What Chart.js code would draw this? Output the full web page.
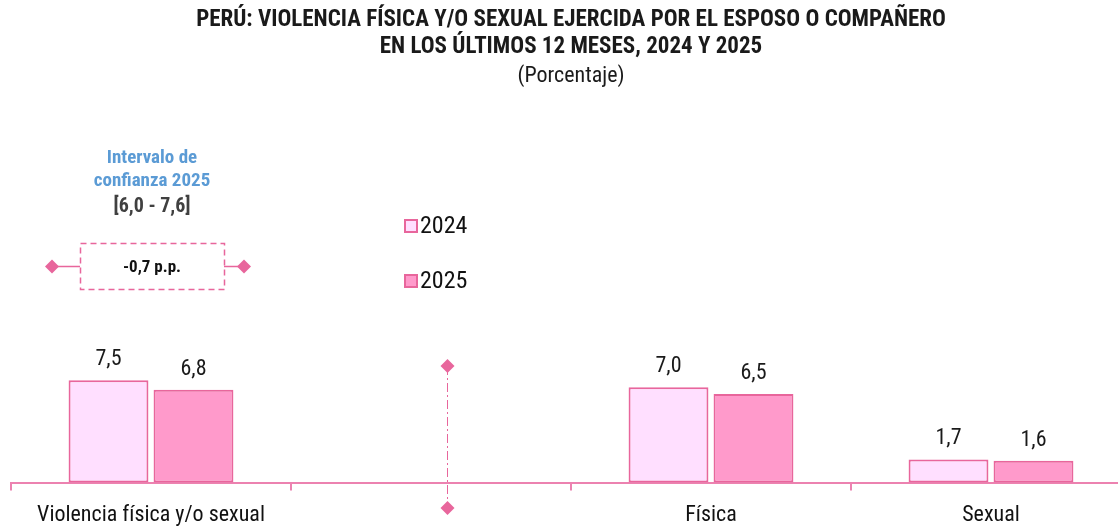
<!DOCTYPE html>
<html>
<head>
<meta charset="utf-8">
<script src="https://cdn.jsdelivr.net/npm/chart.js@4"></script>
<style>
  html, body { margin: 0; padding: 0; background: #ffffff; overflow: hidden; }
  #wrap { width: 1131px; height: 527px; }
</style>
</head>
<body>
<div id="wrap"><canvas id="chart" width="1131" height="527"></canvas></div>
<script>
// data
const categories = ['Violencia física y/o sexual', '', 'Física', 'Sexual'];
const years = ['2024', '2025'];
const values2024 = [7.5, null, 7.0, 1.7];
const values2025 = [6.8, null, 6.5, 1.6];

const titleLines = ['PERÚ: VIOLENCIA FÍSICA Y/O SEXUAL EJERCIDA POR EL ESPOSO O COMPAÑERO', 'EN LOS ÚLTIMOS 12 MESES, 2024 Y 2025'];
const subtitleText = '(Porcentaje)';
const intervalLines = ['Intervalo de', 'confianza 2025'];
const intervalRange = '[6,0 - 7,6]';
const diffText = '-0,7 p.p.';

const FONT = "'Liberation Sans Narrow', 'Arial Narrow', 'Roboto Condensed', sans-serif";
const PINK_LINE = '#e8669c';
const AXIS_PINK = '#ec82b0';
const FILL_2024 = '#ffdfff';
const FILL_2025 = '#ff9acb';

function fmt(v) {
  return v.toFixed(1).replace('.', ',');
}

function diamond(ctx, x, y, r) {
  ctx.beginPath();
  ctx.moveTo(x, y - r);
  ctx.lineTo(x + r, y);
  ctx.lineTo(x, y + r);
  ctx.lineTo(x - r, y);
  ctx.closePath();
  ctx.fill();
}

// value labels, legend, separator and confidence note
const extras = {
  id: 'extras',
  afterDatasetsDraw(chart) {
    const ctx = chart.ctx;
    const xs = chart.scales.x;
    ctx.save();

    // value labels over bars
    ctx.font = '22px ' + FONT;
    ctx.fillStyle = '#1a1a1a';
    ctx.textAlign = 'center';
    ctx.textBaseline = 'alphabetic';
    chart.data.datasets.forEach((ds, i) => {
      chart.getDatasetMeta(i).data.forEach((bar, j) => {
        if (ds.data[j] == null) return;
        ctx.fillText(fmt(ds.data[j]), bar.x, bar.y - 15);
      });
    });

    // legend
    ctx.textAlign = 'left';
    ctx.textBaseline = 'middle';
    chart.data.datasets.forEach((ds, i) => {
      const y = 226 + i * 55;
      ctx.fillStyle = ds.backgroundColor;
      ctx.strokeStyle = ds.borderColor;
      ctx.lineWidth = 2;
      ctx.fillRect(405, y - 6, 12, 12);
      ctx.strokeRect(405, y - 6, 12, 12);
      ctx.fillStyle = '#111111';
      ctx.font = '24px ' + FONT;
      ctx.fillText(ds.label, 420, y + 1);
    });

    // dash-dot separator in the empty category
    const sx = Math.round(xs.getPixelForValue(1) + 16) + 0.5;
    ctx.strokeStyle = PINK_LINE;
    ctx.fillStyle = PINK_LINE;
    ctx.lineWidth = 1;
    ctx.setLineDash([9, 3, 2, 3]);
    ctx.beginPath();
    ctx.moveTo(sx, 366);
    ctx.lineTo(sx, 508);
    ctx.stroke();
    ctx.setLineDash([]);
    diamond(ctx, sx, 366, 7);
    diamond(ctx, sx, 508, 7);

    // confidence interval note
    const cx = 152;
    ctx.textAlign = 'center';
    ctx.font = 'bold 19px ' + FONT;
    ctx.fillStyle = '#5b9bd5';
    ctx.fillText(intervalLines[0], cx, 158);
    ctx.fillText(intervalLines[1], cx, 181);
    ctx.fillStyle = '#404040';
    ctx.font = 'bold 20px ' + FONT;
    ctx.fillText(intervalRange, cx, 207);

    ctx.strokeStyle = PINK_LINE;
    ctx.lineWidth = 1.5;
    ctx.setLineDash([6, 4]);
    ctx.strokeRect(80.5, 243.5, 144, 46);
    ctx.setLineDash([]);
    ctx.beginPath();
    ctx.moveTo(52, 266.5);
    ctx.lineTo(80, 266.5);
    ctx.moveTo(224, 266.5);
    ctx.lineTo(244, 266.5);
    ctx.stroke();
    ctx.fillStyle = PINK_LINE;
    diamond(ctx, 52, 266.5, 7);
    diamond(ctx, 244, 266.5, 7);
    ctx.fillStyle = '#111111';
    ctx.font = 'bold 17px ' + FONT;
    ctx.fillText(diffText, cx, 268);

    ctx.restore();
  }
};

const config = {
  type: 'bar',
  data: {
    labels: categories,
    datasets: [
      {
        label: years[0],
        data: values2024,
        backgroundColor: FILL_2024,
        borderColor: PINK_LINE,
        borderWidth: 2,
        borderSkipped: false,
        categoryPercentage: 0.607,
        barPercentage: 0.94
      },
      {
        label: years[1],
        data: values2025,
        backgroundColor: FILL_2025,
        borderColor: PINK_LINE,
        borderWidth: 2,
        borderSkipped: false,
        categoryPercentage: 0.607,
        barPercentage: 0.94
      }
    ]
  },
  options: {
    responsive: false,
    animation: false,
    layout: { padding: { left: 11, right: 0, top: 0, bottom: -14 } },
    plugins: {
      legend: { display: false },
      tooltip: { enabled: false },
      title: {
        display: true,
        text: titleLines,
        color: '#1a1a1a',
        font: { family: FONT, size: 23, weight: 'bold', lineHeight: 1.2 },
        padding: { top: 6, bottom: 2 }
      },
      subtitle: {
        display: true,
        text: subtitleText,
        color: '#1a1a1a',
        font: { family: FONT, size: 22, lineHeight: 1.25 },
        padding: { top: 0, bottom: 10 }
      }
    },
    scales: {
      x: {
        border: { display: true, color: AXIS_PINK, width: 2 },
        grid: {
          display: true,
          drawOnChartArea: false,
          drawTicks: true,
          tickLength: 8,
          color: AXIS_PINK,
          lineWidth: 2
        },
        ticks: {
          color: '#111111',
          padding: 12,
          maxRotation: 0,
          font: { family: FONT, size: 22 }
        }
      },
      y: {
        display: false,
        min: 0,
        max: 28
      }
    }
  },
  plugins: [extras]
};

new Chart(document.getElementById('chart'), config);
</script>
</body>
</html>
